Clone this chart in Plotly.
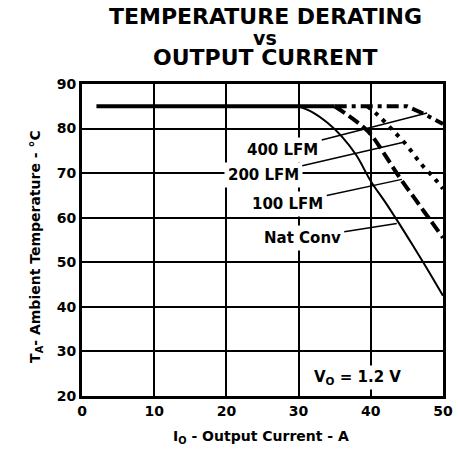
import plotly.graph_objects as go

# ---- data ----
plateau_x = [2, 35]
plateau_y = [85, 85]

nat_x = [30, 32, 34, 36, 38, 40, 42, 44, 46, 48, 50]
nat_y = [85, 83.6, 81.3, 78.2, 74, 68.2, 63.5, 58.5, 53.3, 48, 42.5]

lfm100_x = [35, 37, 39, 40, 42, 44, 46, 48, 50]
lfm100_y = [85, 82.8, 80.3, 78.7, 74, 69, 64.5, 60, 55.5]

lfm200_x = [39.5, 41, 43, 45, 47, 49, 50]
lfm200_y = [85, 83, 79.7, 76.2, 72, 68.5, 66.5]

lfm400_x = [35, 45, 47.5, 50]
lfm400_y = [85, 85, 83.2, 81]

labels = ["400 LFM", "200 LFM", "100 LFM", "Nat Conv"]
label_x = [27.8, 25.1, 28.5, 30.5]
label_y = [75.2, 69.6, 63.1, 55.4]
leader_x = [47.8, 44.7, 44.3, 43.6]
leader_y = [83.5, 77.0, 68.6, 58.7]

x_ticks = [0, 10, 20, 30, 40, 50]
y_ticks = [20, 30, 40, 50, 60, 70, 80, 90]

title_lines = ["TEMPERATURE DERATING", "vs", "OUTPUT CURRENT"]

FONT = "DejaVu Sans"

fig = go.Figure()
fig.add_trace(go.Scatter(x=plateau_x, y=plateau_y, mode="lines",
                         line=dict(color="black", width=4), hoverinfo="skip"))
fig.add_trace(go.Scatter(x=nat_x, y=nat_y, mode="lines", line_shape="spline",
                         line=dict(color="black", width=2)))
fig.add_trace(go.Scatter(x=lfm100_x, y=lfm100_y, mode="lines", line_shape="spline",
                         line=dict(color="black", width=4, dash="12px,5px")))
fig.add_trace(go.Scatter(x=lfm200_x, y=lfm200_y, mode="lines", line_shape="spline",
                         line=dict(color="black", width=4, dash="4px,6px")))
fig.add_trace(go.Scatter(x=lfm400_x, y=lfm400_y, mode="lines",
                         line=dict(color="black", width=4, dash="12px,5px,4px,5px")))

ann = []
for t, lx, ly, ex, ey in zip(labels, label_x, label_y, leader_x, leader_y):
    ann.append(dict(x=ex, y=ey, ax=lx, ay=ly, xref="x", yref="y", axref="x", ayref="y",
                    text="<b>%s</b>" % t, showarrow=True, arrowhead=0, arrowwidth=1.5,
                    arrowcolor="black", bgcolor="white", borderpad=3,
                    font=dict(family=FONT, size=15, color="black")))

ann.append(dict(x=38.2, y=24.2, xref="x", yref="y", showarrow=False,
                text="<b>V<sub>O</sub> = 1.2 V</b>", bgcolor="white", borderpad=2,
                font=dict(family=FONT, size=15, color="black")))

title_x = [0.507, 0.507, 0.507]
title_y = [1.2157, 1.1468, 1.085]
title_size = [22, 19, 22]
for t, tx, ty, ts in zip(title_lines, title_x, title_y, title_size):
    ann.append(dict(x=tx, y=ty, xref="paper", yref="paper", showarrow=False,
                    text="<b>%s</b>" % t, yanchor="middle",
                    font=dict(family=FONT, size=ts, color="black")))

ann.append(dict(x=0.496, y=-0.131, xref="paper", yref="paper", showarrow=False,
                text="<b>I<sub>O</sub> - Output Current - A</b>", yanchor="middle",
                font=dict(family=FONT, size=14, color="black")))
ann.append(dict(x=-0.158, y=0.481, xref="paper", yref="paper", showarrow=False,
                text="<b>T<sub>A</sub>- Ambient Temperature - °C</b>", textangle=-90,
                font=dict(family=FONT, size=14, color="black")))

fig.update_layout(
    width=458, height=455,
    margin=dict(l=82, r=15, t=84, b=59),
    paper_bgcolor="white", plot_bgcolor="white",
    showlegend=False,
    annotations=ann,
)
fig.update_xaxes(range=[0, 50], tickvals=x_ticks, showgrid=True, gridcolor="black",
                 gridwidth=2, zeroline=False, showline=True, linecolor="black",
                 linewidth=3, mirror=True, ticks="", automargin=False,
                 tickfont=dict(family=FONT, size=14, color="black", weight="bold"))
fig.update_yaxes(range=[20, 90], tickvals=y_ticks, showgrid=True, gridcolor="black",
                 gridwidth=2, zeroline=False, showline=True, linecolor="black",
                 linewidth=3, mirror=True, ticks="", automargin=False,
                 tickfont=dict(family=FONT, size=14, color="black", weight="bold"))

# remove the browser's default 8px body margin so the figure sits at the page corner
fig.write_html("out.html", config={"displayModeBar": False},
               post_script="document.body.style.margin='0';")
